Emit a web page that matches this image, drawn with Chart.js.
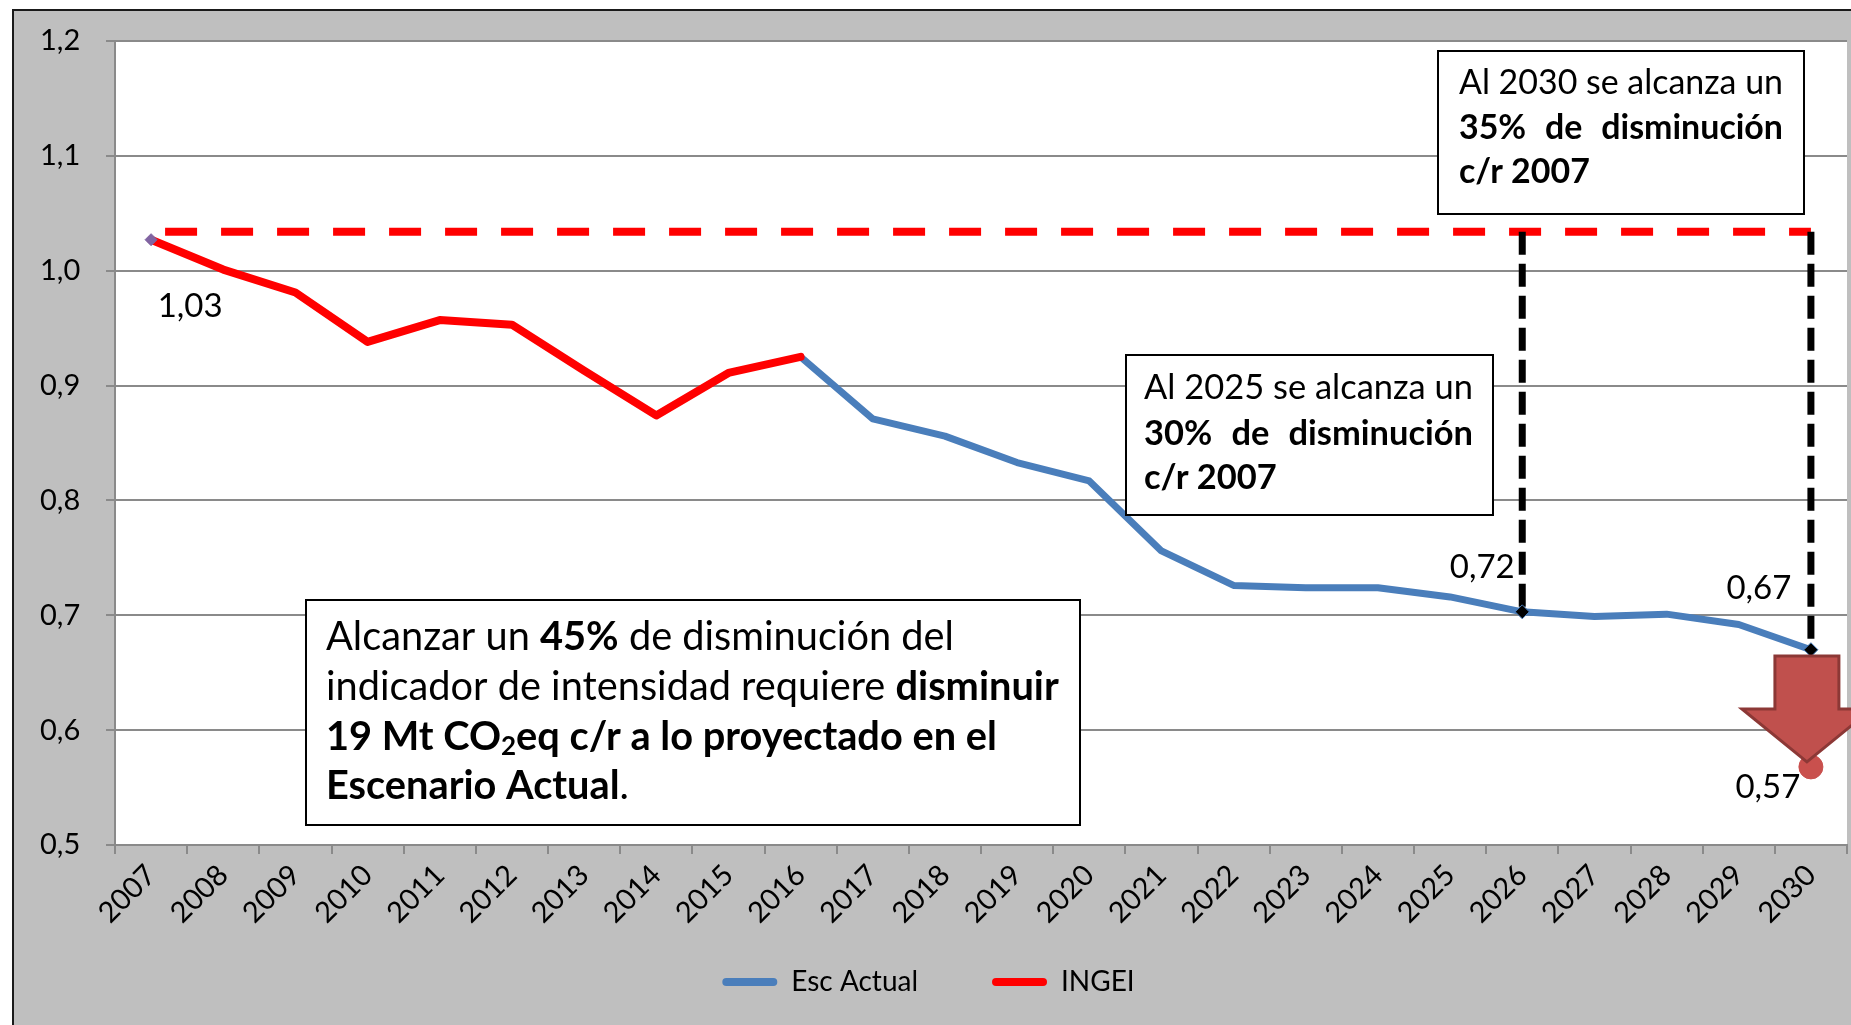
<!DOCTYPE html>
<html>
<head>
<meta charset="utf-8">
<script src="https://cdn.jsdelivr.net/npm/chart.js@4.4.1/dist/chart.umd.min.js"></script>
<style>
  html, body { margin: 0; padding: 0; background: #fff; overflow: hidden; }
  #wrap {
    position: absolute; left: 12px; top: 9px;
    width: 1848px; height: 1048px;
    border-left: 2px solid #1a1a1a; border-top: 2px solid #1a1a1a;
    background: #bfbfbf;
  }
  #chart { display: block; }
</style>
</head>
<body>
<div id="wrap"><canvas id="chart" width="1846" height="1046"></canvas></div>
<script>
// Categories and series
const years = ['2007', '2008', '2009', '2010', '2011', '2012', '2013', '2014', '2015', '2016', '2017', '2018',
               '2019', '2020', '2021', '2022', '2023', '2024', '2025', '2026', '2027', '2028', '2029', '2030'];
const ingei = [1.027, 1.001, 0.981, 0.938, 0.957, 0.953, 0.913, 0.874, 0.911, 0.925,
               null, null, null, null, null, null, null, null, null, null, null, null, null, null];
const escActual = [null, null, null, null, null, null, null, null, null, 0.925,
                   0.871, 0.856, 0.833, 0.817, 0.756, 0.726, 0.724, 0.724, 0.716, 0.703,
                   0.699, 0.701, 0.692, 0.670];
const baseLevel = 1.034;              // nivel 2007 (linea roja discontinua)
const markerYears = ['2026', '2030'];  // lineas verticales negras
const targetYear = '2030';
const targetValue = 0.568;
const yTicks = [0.5, 0.6, 0.7, 0.8, 0.9, 1.0, 1.1, 1.2];
const pointLabels = [
  { year: '2007', value: 1.027, text: '1,03' },
  { year: '2026', value: 0.703, text: '0,72' },
  { year: '2030', value: 0.670, text: '0,67' },
  { year: '2030', value: 0.568, text: '0,57' }
];

const FONT = 'Lato';
const BLUE = '#4a7ebb';
const RED = '#ff0000';
const GRID = '#8a8a8a';

// where each number label sits relative to its point
const labelOffsets = [[39, 67], [-40, -44], [-52, -61], [-43, 20]];
const legendCenterY = 971;
const legendShiftX = -19;

// text boxes (canvas pixels)
const boxes = [
  { x: 1424, y: 40, w: 366, h: 163, pad: 21, lineY: [32, 77, 121], justify: 324,
    lines: [[{ t: 'Al 2030 se alcanza un' }],
            [{ t: '35% de disminución', b: true }],
            [{ t: 'c/r 2007', b: true }]] },
  { x: 1112, y: 344, w: 367, h: 160, pad: 18, lineY: [33, 79, 123], justify: 329,
    lines: [[{ t: 'Al 2025 se alcanza un' }],
            [{ t: '30% de disminución', b: true }],
            [{ t: 'c/r 2007', b: true }]] },
  { x: 292, y: 589, w: 774, h: 225, pad: 20, lineY: [37, 87, 137, 186], fit: 733,
    lines: [[{ t: 'Alcanzar un ' }, { t: '45%', b: true }, { t: ' de disminución del' }],
            [{ t: 'indicador de intensidad requiere ' }, { t: 'disminuir', b: true }],
            [{ t: '19 Mt CO', b: true }, { t: '2', b: true, sub: true }, { t: 'eq c/r a lo proyectado en el', b: true }],
            [{ t: 'Escenario Actual', b: true }, { t: '.' }]] }
];

function tokens(runs) {
  const toks = [];
  runs.forEach(r => r.t.split(/( )/).forEach(p => { if (p) toks.push({ t: p, b: r.b, sub: r.sub }); }));
  return toks;
}
function tokFont(tk, size) {
  return (tk.b ? 'bold ' : '') + (tk.sub ? Math.round(size * 0.65) : size) + 'px ' + FONT;
}
function lineWidth(ctx, runs, size) {
  let w = 0;
  tokens(runs).forEach(tk => { ctx.font = tokFont(tk, size); w += ctx.measureText(tk.t).width; });
  return w;
}
function drawLine(ctx, runs, x, y, size, justify) {
  const toks = tokens(runs);
  let total = 0, gaps = 0;
  toks.forEach(tk => {
    ctx.font = tokFont(tk, size);
    tk.w = ctx.measureText(tk.t).width;
    total += tk.w;
    if (tk.t === ' ') gaps++;
  });
  const extra = justify && gaps ? Math.max(0, (justify - total) / gaps) : 0;
  let cx = x;
  toks.forEach(tk => {
    ctx.font = tokFont(tk, size);
    ctx.fillText(tk.t, cx, y + (tk.sub ? size * 0.25 : 0));
    cx += tk.w + (tk.t === ' ' ? extra : 0);
  });
}

const annotations = {
  id: 'annotations',
  afterLayout(chart) {
    // move the legend row up under the rotated year labels
    const lg = chart.legend;
    const pad = lg.options.labels.padding;
    const fs = lg.options.labels.font.size;
    const dy = legendCenterY - (lg.top + pad + fs / 2);
    lg.top += dy;
    lg.bottom += dy;
    lg.left += legendShiftX;
    lg.right += legendShiftX;
  },
  beforeDraw(chart) {
    const { ctx, chartArea: a } = chart;
    ctx.save();
    ctx.fillStyle = '#ffffff';
    ctx.fillRect(a.left, a.top, a.right - a.left, a.bottom - a.top);
    ctx.restore();
  },
  afterDatasetsDraw(chart) {
    const { ctx } = chart;
    const xs = chart.scales.x, ys = chart.scales.y;
    ctx.save();

    // block arrow towards the 2030 target
    const ax = xs.getPixelForValue(years.indexOf(targetYear)) - 4;
    const ty = ys.getPixelForValue(targetValue);
    ctx.beginPath();
    ctx.moveTo(ax - 32, ty - 111);
    ctx.lineTo(ax + 32, ty - 111);
    ctx.lineTo(ax + 32, ty - 58);
    ctx.lineTo(ax + 65, ty - 58);
    ctx.lineTo(ax, ty - 5);
    ctx.lineTo(ax - 65, ty - 58);
    ctx.lineTo(ax - 32, ty - 58);
    ctx.closePath();
    ctx.fillStyle = '#c0504d';
    ctx.fill();
    ctx.lineWidth = 3;
    ctx.strokeStyle = '#8c3836';
    ctx.stroke();

    // number labels
    ctx.fillStyle = '#000';
    ctx.font = '33px ' + FONT;
    ctx.textAlign = 'center';
    ctx.textBaseline = 'middle';
    pointLabels.forEach((p, i) => {
      const px = xs.getPixelForValue(years.indexOf(p.year));
      const py = ys.getPixelForValue(p.value);
      ctx.fillText(p.text, px + labelOffsets[i][0], py + labelOffsets[i][1]);
    });

    // text boxes
    ctx.textAlign = 'left';
    boxes.forEach(bx => {
      ctx.fillStyle = '#fff';
      ctx.fillRect(bx.x, bx.y, bx.w, bx.h);
      ctx.lineWidth = 2;
      ctx.strokeStyle = '#000';
      ctx.strokeRect(bx.x, bx.y, bx.w, bx.h);
      let size;
      if (bx.justify) {
        const s1 = 100 * bx.justify / lineWidth(ctx, bx.lines[0], 100);
        const s2 = 100 * bx.justify / lineWidth(ctx, bx.lines[1], 100);
        size = Math.min(s1, s2);
      } else {
        size = 100 * bx.fit / lineWidth(ctx, bx.lines[1], 100);
      }
      ctx.fillStyle = '#000';
      bx.lines.forEach((ln, i) => {
        const last = i === bx.lines.length - 1;
        drawLine(ctx, ln, bx.x + bx.pad, bx.y + bx.lineY[i], size, bx.justify && !last ? bx.justify : 0);
      });
    });
    ctx.restore();
  }
};

const legendDefaults = Chart.defaults.plugins.legend.labels.generateLabels;

new Chart(document.getElementById('chart'), {
  type: 'line',
  data: {
    labels: years,
    datasets: [
      {
        label: 'Esc Actual',
        data: escActual,
        borderColor: BLUE,
        backgroundColor: BLUE,
        borderWidth: 7,
        borderJoinStyle: 'round',
        pointStyle: 'rectRot',
        pointRadius: ctx => markerYears.includes(years[ctx.dataIndex]) ? 7 : 0,
        pointBackgroundColor: '#000',
        pointBorderColor: BLUE,
        pointBorderWidth: 1,
        order: 1
      },
      {
        label: 'INGEI',
        data: ingei,
        borderColor: RED,
        backgroundColor: RED,
        borderWidth: 8,
        borderJoinStyle: 'round',
        borderCapStyle: 'round',
        pointStyle: 'rectRot',
        pointRadius: ctx => ctx.dataIndex === 0 ? 6 : 0,
        pointBackgroundColor: '#8064a2',
        pointBorderColor: '#8064a2',
        pointBorderWidth: 1,
        order: 0
      },
      ...markerYears.map(yr => ({
        label: 'v' + yr,
        data: [{ x: yr, y: baseLevel }, { x: yr, y: escActual[years.indexOf(yr)] }],
        borderColor: '#000',
        borderWidth: 7,
        borderDash: [23, 9],
        pointRadius: 0,
        order: 2
      })),
      {
        label: 'base',
        data: [{ x: years[0], y: baseLevel }, { x: years[years.length - 1], y: baseLevel }],
        borderColor: RED,
        borderWidth: 8,
        borderDash: [32, 24],
        borderDashOffset: 42,
        pointRadius: 0,
        order: 3
      },
      {
        label: 'meta',
        data: [{ x: targetYear, y: targetValue }],
        showLine: false,
        pointStyle: 'circle',
        pointRadius: 12,
        pointBackgroundColor: '#c9504d',
        pointBorderColor: '#c9504d',
        order: 4
      }
    ]
  },
  options: {
    responsive: false,
    animation: false,
    layout: { padding: { left: 26, right: 5, top: 30, bottom: 0 } },
    plugins: {
      tooltip: { enabled: false },
      legend: {
        position: 'bottom',
        labels: {
          color: '#000',
          font: { family: FONT, size: 28 },
          boxWidth: 55,
          boxHeight: 8,
          useBorderRadius: true,
          borderRadius: 4,
          padding: 74,
          generateLabels: chart => legendDefaults(chart)
            .filter(l => l.datasetIndex < 2)
            .sort((a, b) => a.datasetIndex - b.datasetIndex)
            .map(l => Object.assign(l, { lineWidth: 0, lineDash: [] }))
        }
      }
    },
    scales: {
      x: {
        offset: true,
        afterFit: s => { s.height = 100; },
        grid: { offset: true, drawOnChartArea: false, color: GRID, lineWidth: 2, tickLength: 9 },
        border: { color: GRID, width: 2 },
        ticks: {
          color: '#000',
          font: { family: FONT, size: 29 },
          maxRotation: 45,
          minRotation: 45,
          autoSkip: false,
          padding: 4
        }
      },
      y: {
        min: 0.5,
        max: 1.2,
        afterFit: s => { s.width = 75; },
        afterBuildTicks: s => { s.ticks = yTicks.map(v => ({ value: v })); },
        grid: { color: GRID, lineWidth: 2, tickLength: 9 },
        border: { color: GRID, width: 2 },
        ticks: {
          color: '#000',
          font: { family: FONT, size: 29 },
          crossAlign: 'far',
          padding: 0,
          callback: v => v.toFixed(1).replace('.', ',')
        }
      }
    }
  },
  plugins: [annotations]
});
</script>
</body>
</html>
